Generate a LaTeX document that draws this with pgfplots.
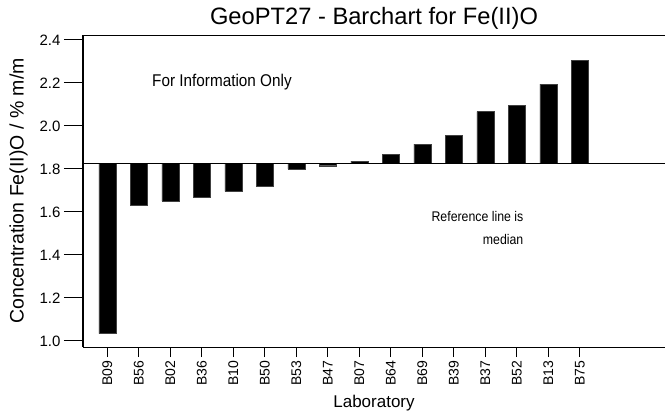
\documentclass[border=0pt]{standalone}
\usepackage{fontspec}
\setmainfont{Liberation Sans}
\usepackage{graphicx}
\usepackage{pgfplots}
\pgfplotsset{compat=1.18}
\usepackage{pgfplotstable}

\pgfplotstableread{
idx lab v
0 B09 1.034
1 B56 1.631
2 B02 1.650
3 B36 1.667
4 B10 1.696
5 B50 1.718
6 B53 1.799
7 B47 1.815
8 B07 1.837
9 B64 1.867
10 B69 1.915
11 B39 1.957
12 B37 2.067
13 B52 2.096
14 B13 2.195
15 B75 2.305
}\datatable

\pgfplotsset{
  common/.style={
    scale only axis, width=582bp, height=312bp,
    xmin=-0.771, xmax=17.705,
    ymin=-0.854, ymax=0.597,
    axis line style={line width=1bp},
    tick align=outside,
    tick style={line width=1bp, black},
  }
}

\begin{document}
\begin{tikzpicture}
% axis carrying the long y ticks and the y label
\begin{axis}[
  common,
  axis x line=none, axis y line*=left,
  major tick length=19bp,
  xtick=\empty,
  ytick={-0.826,-0.626,-0.426,-0.226,-0.026,0.174,0.374,0.574},
  yticklabels={1.0,1.2,1.4,1.6,1.8,2.0,2.2,2.4},
  yticklabel style={font=\fontsize{15bp}{17bp}\selectfont},
  ylabel={Concentration Fe(II)O / \% m/m},
  ylabel style={font=\fontsize{19.5bp}{22bp}\selectfont,
    at={(axis description cs:-0.1108,0.5)}, anchor=center},
]
\end{axis}
% main axis with bars
\begin{axis}[
  common,
  axis x line*=box, axis y line*=left,
  major tick length=10bp,
  ytick=\empty,
  xtick={0,...,15},
  xticklabels={B09,B56,B02,B36,B10,B50,B53,B47,B07,B64,B69,B39,B37,B52,B13,B75},
  xtick pos=left,
  xticklabel style={font=\fontsize{14bp}{16bp}\selectfont, rotate=90, anchor=east},
  xlabel={Laboratory},
  xlabel style={font=\fontsize{17bp}{20bp}\selectfont, yshift=-3bp},
  title={GeoPT27 - Barchart for Fe(II)O},
  title style={font=\fontsize{23.7bp}{26bp}\selectfont, yshift=-4bp},
]
\addplot[ybar, bar width=17bp, bar shift=0pt, fill=black, draw=black!75]
  table[x=idx, y expr=\thisrow{v}-1.826] {\datatable};
\addplot[line width=1.2bp, black] coordinates {(-0.771,0) (17.705,0)};
\node[font=\fontsize{17bp}{20bp}\selectfont] at (axis cs:3.64,0.378)
  {\scalebox{0.9}[1]{For Information Only}};
\node[font=\fontsize{14bp}{23bp}\selectfont, anchor=east, align=right] at (axis cs:13.32,-0.302)
  {\scalebox{0.88}[1]{Reference line is}\\\scalebox{0.88}[1]{median}};
\end{axis}
\pgfresetboundingbox
\path (current axis.south west) ++(-83bp,-67bp) rectangle ([shift={(0bp,35bp)}]current axis.north east);
\end{tikzpicture}
\end{document}
